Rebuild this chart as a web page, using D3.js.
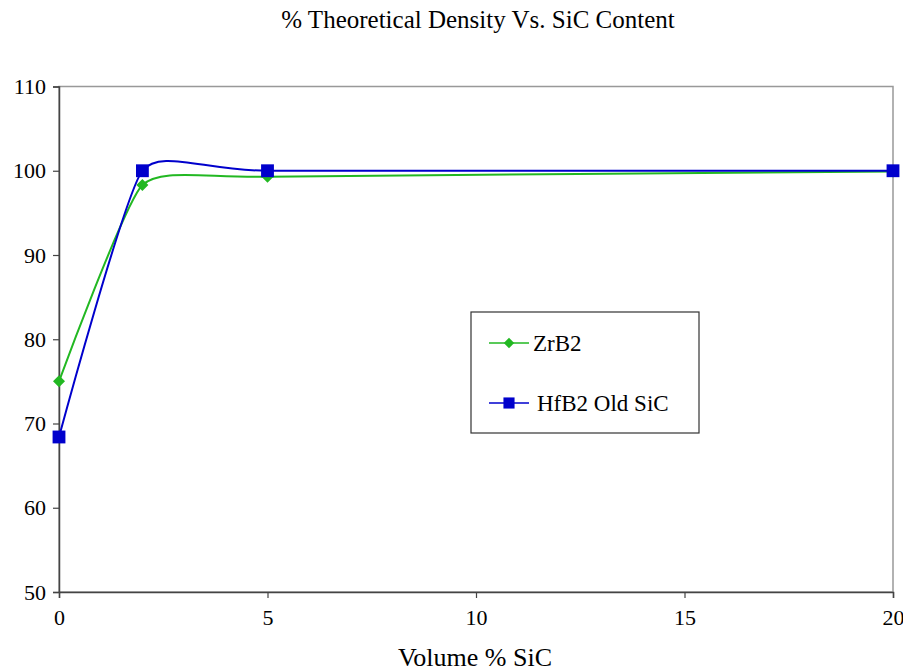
<!DOCTYPE html>
<html>
<head>
<meta charset="utf-8">
<script src="https://cdn.jsdelivr.net/npm/d3@7"></script>
<style>
  body { margin: 0; background: #fff; }
  text { font-family: "Liberation Serif", "Times New Roman", serif; fill: #000; }
</style>
</head>
<body>
<div id="chart"></div>
<script>
// Data
const volumeSiC = [0, 2, 5, 20];
const zrb2 = [75.0, 98.3, 99.3, 99.9];
const hfb2 = [68.4, 100.0, 100.0, 100.0];
const xTicks = [0, 5, 10, 15, 20];
const yTicks = [50, 60, 70, 80, 90, 100, 110];
const seriesNames = ["ZrB2", "HfB2 Old SiC"];

const W = 903, H = 671;
const margin = { top: 86.5, left: 59 };
const width = 893 - margin.left, height = 592 - margin.top;

const svg = d3.select("#chart").append("svg")
  .attr("width", W).attr("height", H);

const g = svg.append("g")
  .attr("transform", `translate(${margin.left},${margin.top})`);

const x = d3.scaleLinear().domain([0, 20]).range([0, width]);
const y = d3.scaleLinear().domain([50, 110]).range([height, 0]);

// plot area border
g.append("rect")
  .attr("width", width).attr("height", height)
  .attr("fill", "none").attr("stroke", "#999").attr("stroke-width", 1.5);

// axes
const xAxis = g.append("g")
  .attr("transform", `translate(0,${height})`)
  .call(d3.axisBottom(x).tickValues(xTicks).tickSize(6).tickPadding(11));
const yAxis = g.append("g")
  .call(d3.axisLeft(y).tickValues(yTicks).tickSize(6).tickPadding(7));

[xAxis, yAxis].forEach(a => {
  a.select(".domain").attr("stroke", "#444").attr("stroke-width", 1.5);
  a.selectAll(".tick line").attr("stroke", "#444").attr("stroke-width", 1.2);
  a.selectAll("text").attr("font-size", 22)
    .attr("font-family", "Liberation Serif").attr("fill", "#000");
});

// smoothed lines (Excel style)
const line = d3.line()
  .x(d => x(d[0])).y(d => y(d[1]))
  .curve(d3.curveCardinal.tension(0.5));

// diamond = square turned 45 degrees
const series = [
  { name: seriesNames[0], values: zrb2, color: "#22b822", shape: d3.symbolSquare, size: 72, rot: 45 },
  { name: seriesNames[1], values: hfb2, color: "#0000cc", shape: d3.symbolSquare, size: 165, rot: 0 }
];

series.forEach(s => {
  const pts = volumeSiC.map((v, i) => [v, s.values[i]]);
  g.append("path")
    .datum(pts)
    .attr("fill", "none")
    .attr("stroke", s.color)
    .attr("stroke-width", 2)
    .attr("d", line);
  g.selectAll(null)
    .data(pts)
    .join("path")
    .attr("transform", d => `translate(${x(d[0])},${y(d[1])}) rotate(${s.rot})`)
    .attr("d", d3.symbol().type(s.shape).size(s.size))
    .attr("fill", s.color);
});

// title and axis label
svg.append("text")
  .attr("x", 478).attr("y", 28)
  .attr("text-anchor", "middle").attr("font-size", 25)
  .text("% Theoretical Density Vs. SiC Content");

svg.append("text")
  .attr("x", 475).attr("y", 666)
  .attr("text-anchor", "middle").attr("font-size", 26)
  .text("Volume % SiC");

// legend
const legend = svg.append("g").attr("transform", "translate(471,312)");
legend.append("rect")
  .attr("width", 228).attr("height", 121)
  .attr("fill", "#fff").attr("stroke", "#333").attr("stroke-width", 1.2);

series.forEach((s, i) => {
  const ly = 31 + i * 60;
  legend.append("line")
    .attr("x1", 18).attr("x2", 58).attr("y1", ly).attr("y2", ly)
    .attr("stroke", s.color).attr("stroke-width", 1.5);
  legend.append("path")
    .attr("transform", `translate(38,${ly}) rotate(${s.rot})`)
    .attr("d", d3.symbol().type(s.shape).size(s.size * 0.75))
    .attr("fill", s.color);
  legend.append("text")
    .attr("x", i === 0 ? 62 : 66).attr("y", ly + 8)
    .attr("font-size", 23)
    .text(s.name);
});
</script>
</body>
</html>
